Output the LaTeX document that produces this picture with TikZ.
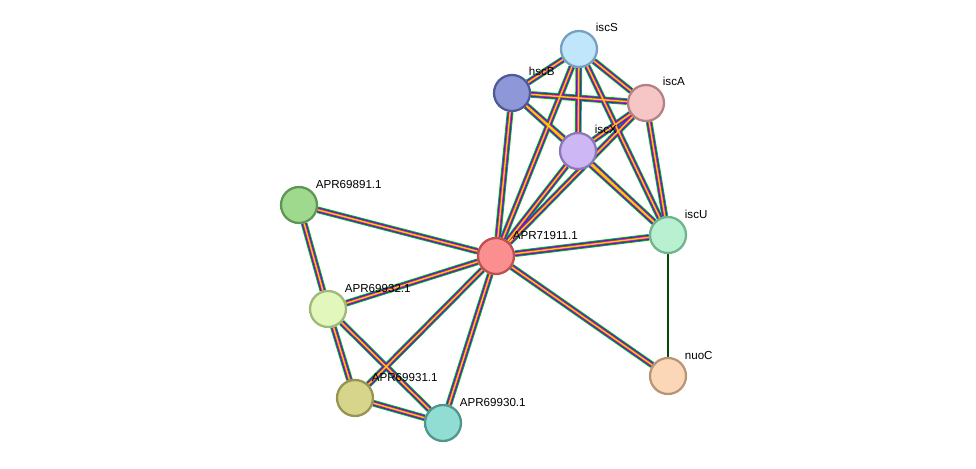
\documentclass[tikz,border=0pt]{standalone}
\usepackage{fontspec}
\setsansfont{Liberation Sans}
\usetikzlibrary{positioning}
\pgfdeclarelayer{bg}
\pgfsetlayers{bg,main}
\tikzset{
	every picture/.style={/utils/exec={\sffamily}},
	x=0.02cm, y=-0.02cm,
	prot/.style={circle, draw, line width=1.3pt, minimum size=0.72cm, inner sep=0},
	lbl/.style={font=\fontsize{6.6}{7}\selectfont, inner sep=1pt},
	every label/.style={lbl},
	label distance=1pt
}
\begin{document}
\begin{tikzpicture}
		\useasboundingbox (0,0) rectangle (976,469);
		\node(iscS)[prot, fill={rgb,255:red,191;green,230;blue,251}, draw={rgb,255:red,120;green,160;blue,190}, label={above right:iscS}] at (579,49) {};
		\node(hscB)[prot, fill={rgb,255:red,142;green,152;blue,216}, draw={rgb,255:red,80;green,90;blue,150}, label={above right:hscB}] at (512,93) {};
		\node(iscA)[prot, fill={rgb,255:red,246;green,198;blue,198}, draw={rgb,255:red,180;green,130;blue,130}, label={above right:iscA}] at (646,103) {};
		\node(iscX)[prot, fill={rgb,255:red,205;green,184;blue,245}, draw={rgb,255:red,140;green,120;blue,180}, label={above right:iscX}] at (578,151) {};
		\node(p891)[prot, fill={rgb,255:red,158;green,217;blue,142}, draw={rgb,255:red,95;green,150;blue,85}, label={above right:APR69891.1}] at (299,205) {};
		\node(p911)[prot, fill={rgb,255:red,251;green,143;blue,143}, draw={rgb,255:red,190;green,80;blue,80}, label={above right:APR71911.1}] at (496,256) {};
		\node(iscU)[prot, fill={rgb,255:red,184;green,240;blue,209}, draw={rgb,255:red,110;green,180;blue,140}, label={above right:iscU}] at (668,235) {};
		\node(p932)[prot, fill={rgb,255:red,225;green,247;blue,187}, draw={rgb,255:red,160;green,185;blue,120}, label={above right:APR69932.1}] at (328,309) {};
		\node(nuoC)[prot, fill={rgb,255:red,251;green,215;blue,184}, draw={rgb,255:red,185;green,150;blue,115}, label={above right:nuoC}] at (668,376) {};
		\node(p931)[prot, fill={rgb,255:red,215;green,212;blue,140}, draw={rgb,255:red,150;green,148;blue,80}, label={above right:APR69931.1}] at (355,398) {};
		\node(p930)[prot, fill={rgb,255:red,146;green,221;blue,211}, draw={rgb,255:red,80;green,150;blue,140}, label={above right:APR69930.1}] at (443,423) {};
		
		\begin{pgfonlayer}{bg}
		\foreach \w/\c in {3.8pt/green!75!black, 2.8pt/blue!85, 1.8pt/magenta!75!purple, 0.8pt/yellow!75!olive}
		{
			\foreach \a/\b in {p911/iscS, p911/hscB, p911/iscA, p911/iscX, p911/iscU, p911/nuoC, p911/p891, p911/p932, p911/p931, p911/p930, iscS/hscB, iscS/iscA, iscS/iscX, iscS/iscU, hscB/iscA, hscB/iscX, hscB/iscU, iscA/iscX, iscA/iscU, iscX/iscU, p891/p932, p932/p931, p932/p930, p931/p930}
				\draw[line width=\w, \c] (\a) -- (\b);
		}
		\draw[line width=1.1pt, black!70!green] (iscU) -- (nuoC);
		\end{pgfonlayer}
\end{tikzpicture}
\end{document}
